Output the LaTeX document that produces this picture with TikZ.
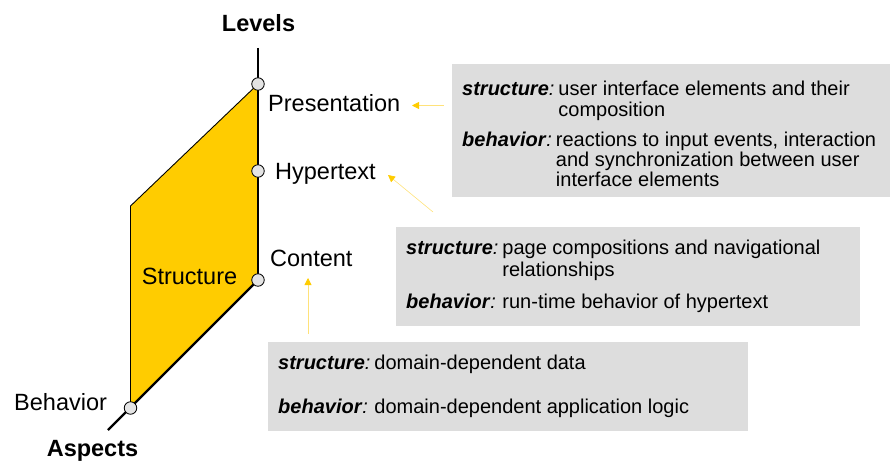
\documentclass[tikz,border=0pt]{standalone}
\usepackage{fontspec}
\setmainfont{Liberation Sans}
\usetikzlibrary{arrows.meta}
\definecolor{amber}{HTML}{FFCC00}
\definecolor{paleamber}{HTML}{FFE27A}
\definecolor{panel}{HTML}{DDDDDD}
\definecolor{dotfill}{HTML}{E4E4E4}
% bold italic keyword followed by an italic colon
\newcommand\kwd[1]{\textbf{\textit{#1}}\textit{:}}
\begin{document}
\begin{tikzpicture}[x=1pt,y=-1pt,
  axis/.style={line width=2.2pt},
  rim/.style={line width=0.9pt},
  port/.style={circle,draw=black,line width=0.8pt,fill=dotfill,minimum size=12.5pt,inner sep=0pt},
  lbl/.style={inner sep=0pt,anchor=base west,font=\fontsize{23.5}{28}\selectfont},
  ttl/.style={inner sep=0pt,anchor=base,font=\fontsize{23.5}{28}\selectfont\bfseries},
  panelbox/.style={fill=panel,draw=none,inner sep=0pt,anchor=north west},
  desc/.style={inner sep=0pt,anchor=base west,font=\fontsize{20}{19.5}\selectfont},
  hint/.style={draw=paleamber,line width=0.8pt,-{Triangle[length=7pt,width=7pt,color=amber]}},
]
\useasboundingbox (0,0) rectangle (890,462);

% description panels
\node[panelbox,minimum width=438pt,minimum height=133pt] (panelP) at (452,64) {};
\node[panelbox,minimum width=464pt,minimum height=99pt] (panelH) at (396,227) {};
\node[panelbox,minimum width=480pt,minimum height=89pt] (panelC) at (268,342) {};

% positions on the two axes
\coordinate (levTop) at (258,48);
\coordinate (cPres) at (258,84);
\coordinate (cHyp) at (258,171);
\coordinate (cCont) at (258,280);
\coordinate (cBeh) at (130.5,408);
\coordinate (cCorner) at (130.5,206);
\coordinate (aspEnd) at (108,430);

% the structure plane
\fill[amber] (cPres) -- (cCorner) -- (cBeh) -- (cCont) -- cycle;
\draw[rim] (cPres) -- (cCorner) -- (cBeh);
\draw[axis] (levTop) -- (cCont);
\draw[axis] (cCont) -- (aspEnd);

\node[port] (pPres) at (cPres) {};
\node[port] (pHyp) at (cHyp) {};
\node[port] (pCont) at (cCont) {};
\node[port] (pBeh) at (cBeh) {};

% axis and level labels
\node[ttl] (levels) at (258.5,32) {Levels};
\node[ttl] (aspects) at (92.5,456) {Aspects};
\node[lbl] (lPres) at (268,112) {Presentation};
\node[lbl] (lHyp) at (275,180) {Hypertext};
\node[lbl] (lCont) at (270,266) {Content};
\node[ttl,font=\fontsize{23.5}{28}\selectfont] (lStruct) at (189.5,284) {Structure};
\node[lbl] (lBeh) at (14,410) {Behavior};

% panel texts
\node[desc] (tPres) at (462,96) {\begin{tabular}[t]{@{}l@{\hspace{4pt}}l@{}}
\kwd{structure} & user interface elements and their\\
 & composition\\[9.5pt]
\kwd{behavior} & \hspace{-2.5pt}reactions to input events, interaction\\
 & \hspace{-2.5pt}and synchronization between user\\
 & \hspace{-2.5pt}interface elements
\end{tabular}};
\node[desc,font=\fontsize{20}{22}\selectfont] (tHyp) at (406,254) {\begin{tabular}[t]{@{}l@{\hspace{4pt}}l@{}}
\kwd{structure} & page compositions and navigational\\
 & relationships\\[10pt]
\kwd{behavior} & run-time behavior of hypertext
\end{tabular}};
\node[desc] (tCont) at (278,369) {\begin{tabular}[t]{@{}l@{\hspace{4pt}}l@{}}
\kwd{structure} & domain-dependent data\\[24.5pt]
\kwd{behavior} & domain-dependent application logic
\end{tabular}};

% pointers from the panels to their levels
\coordinate (a1s) at (444,105.5);
\coordinate (a1e) at (412,105.5);
\coordinate (a2s) at (433,212);
\coordinate (a2e) at (388,175);
\coordinate (a3s) at (308,334);
\coordinate (a3e) at (308,278);
\draw[hint] (a1s) -- (a1e);
\draw[hint,line width=0.6pt] (a2s) -- (a2e);
\draw[hint] (a3s) -- (a3e);
\end{tikzpicture}
\end{document}
